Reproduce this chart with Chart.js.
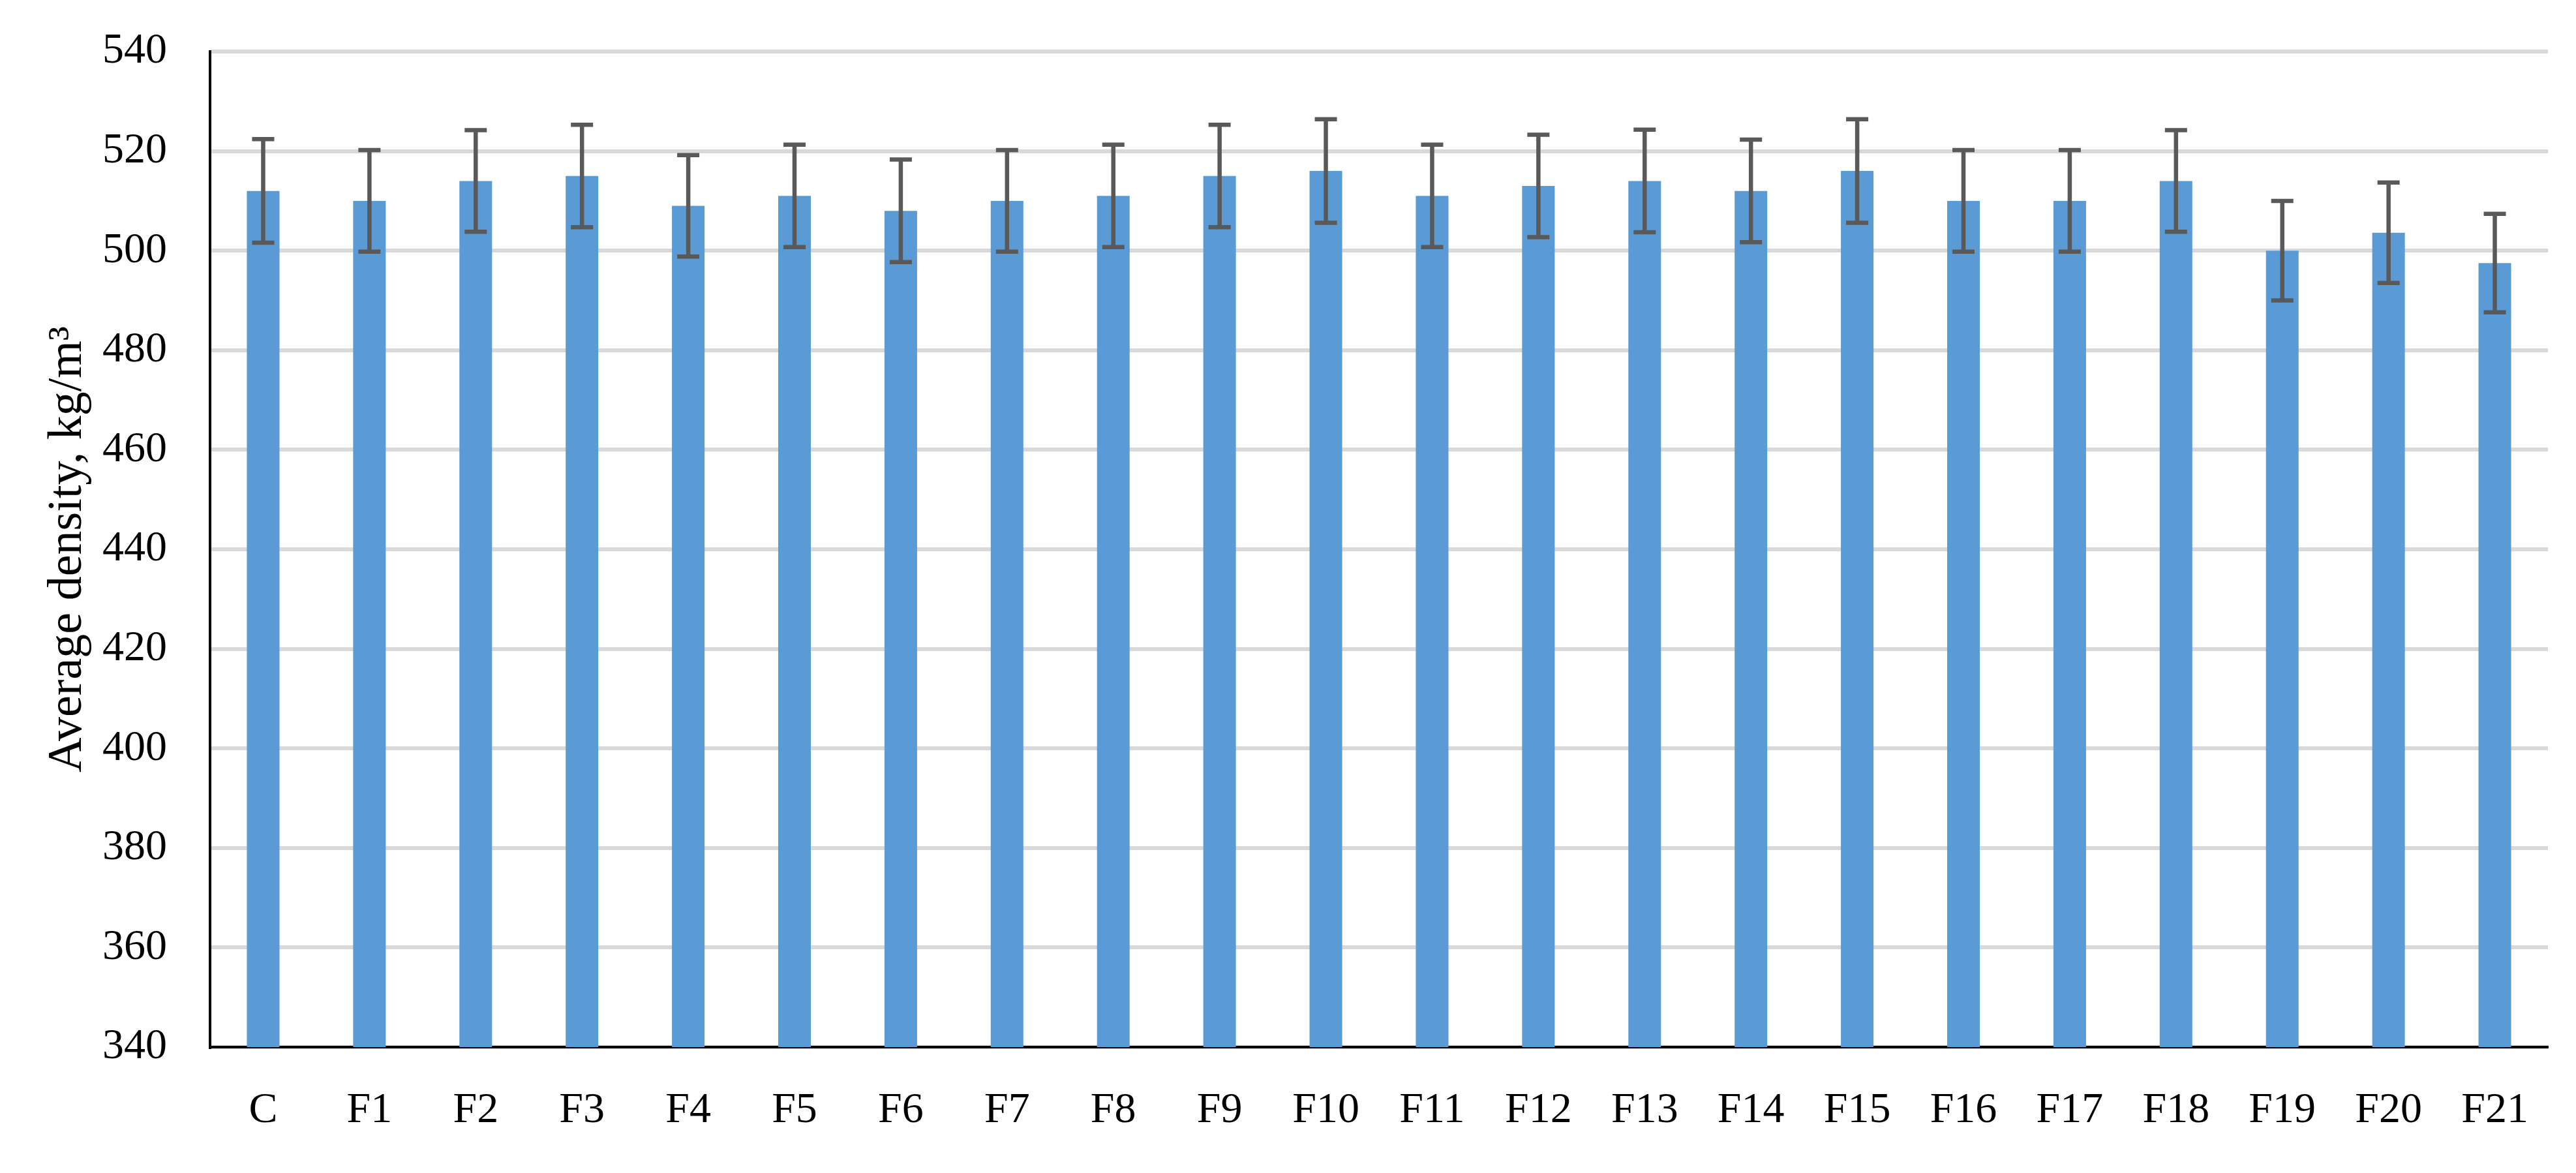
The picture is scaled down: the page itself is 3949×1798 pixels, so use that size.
<!DOCTYPE html>
<html>
<head>
<meta charset="utf-8">
<script src="https://cdn.jsdelivr.net/npm/chart.js@4.4.1/dist/chart.umd.min.js"></script>
<style>
  html, body { margin: 0; padding: 0; background: #ffffff; }
  canvas { display: block; }
</style>
</head>
<body>
<canvas id="densityChart" width="3949" height="1798"></canvas>
<script>
// sample labels along the x axis
const categories = ['C', 'F1', 'F2', 'F3', 'F4', 'F5', 'F6', 'F7', 'F8', 'F9', 'F10',
  'F11', 'F12', 'F13', 'F14', 'F15', 'F16', 'F17', 'F18', 'F19', 'F20', 'F21']

// average density, kg/m3
const densityMean = [512, 510, 514, 515, 509, 511, 508, 510, 511, 515, 516,
  511, 513, 514, 512, 516, 510, 510, 514, 500, 503.6, 497.5]

// +/- error bar half-length
const densityError = [10.4, 10.2, 10.2, 10.3, 10.2, 10.3, 10.3, 10.2, 10.3, 10.3, 10.4,
  10.3, 10.3, 10.3, 10.3, 10.4, 10.2, 10.2, 10.2, 10, 10.1, 9.9]

// y axis range and tick step
const yMin = 340
const yMax = 540
const yStep = 20

const FONT = "'Liberation Serif', 'Times New Roman', serif"

// draws the error bars using the y scale of the chart
const errorBars = {
  id: 'errorBars',
  afterDatasetsDraw(chart) {
    const ctx = chart.ctx
    const yScale = chart.scales.y
    const meta = chart.getDatasetMeta(0)
    const capHalf = 17
    ctx.save()
    ctx.strokeStyle = '#595959'
    ctx.lineWidth = 6.5
    ctx.lineCap = 'butt'
    meta.data.forEach((bar, i) => {
      const hi = yScale.getPixelForValue(densityMean[i] + densityError[i])
      const lo = yScale.getPixelForValue(densityMean[i] - densityError[i])
      ctx.beginPath()
      ctx.moveTo(bar.x, hi)
      ctx.lineTo(bar.x, lo)
      ctx.moveTo(bar.x - capHalf, hi)
      ctx.lineTo(bar.x + capHalf, hi)
      ctx.moveTo(bar.x - capHalf, lo)
      ctx.lineTo(bar.x + capHalf, lo)
      ctx.stroke()
    })
    ctx.restore()
  }
}

const chart = new Chart(document.getElementById('densityChart'), {
  type: 'bar',
  data: {
    labels: categories,
    datasets: [{
      data: densityMean,
      backgroundColor: '#5B9BD5',
      borderWidth: 0,
      categoryPercentage: 1,
      barPercentage: 0.307
    }]
  },
  options: {
    responsive: false,
    devicePixelRatio: 1,
    animation: false,
    layout: { padding: { top: 79, right: 43, left: 0, bottom: 0 } },
    plugins: {
      legend: { display: false },
      tooltip: { enabled: false }
    },
    scales: {
      x: {
        grid: { display: false, drawTicks: false },
        border: { color: '#000000', width: 4 },
        ticks: {
          color: '#000000',
          padding: 58,
          maxRotation: 0,
          autoSkip: false,
          font: { family: FONT, size: 66 }
        },
        afterFit(scale) { scale.height = 193 }
      },
      y: {
        min: yMin,
        max: yMax,
        grid: { color: '#D9D9D9', lineWidth: 6, drawTicks: false },
        border: { color: '#000000', width: 4 },
        ticks: {
          stepSize: yStep,
          color: '#000000',
          padding: 66,
          font: { family: FONT, size: 66 }
        },
        title: {
          display: true,
          text: 'Average density, kg/m³',
          color: '#000000',
          padding: { top: 60, bottom: 0 },
          font: { family: FONT, size: 74 }
        },
        afterFit(scale) {
          // fixed axis width, and no extra room above the top label
          scale.width = 322
          scale.paddingTop = 0
          scale.paddingBottom = 0
        }
      }
    }
  },
  plugins: [errorBars]
})
</script>
</body>
</html>
